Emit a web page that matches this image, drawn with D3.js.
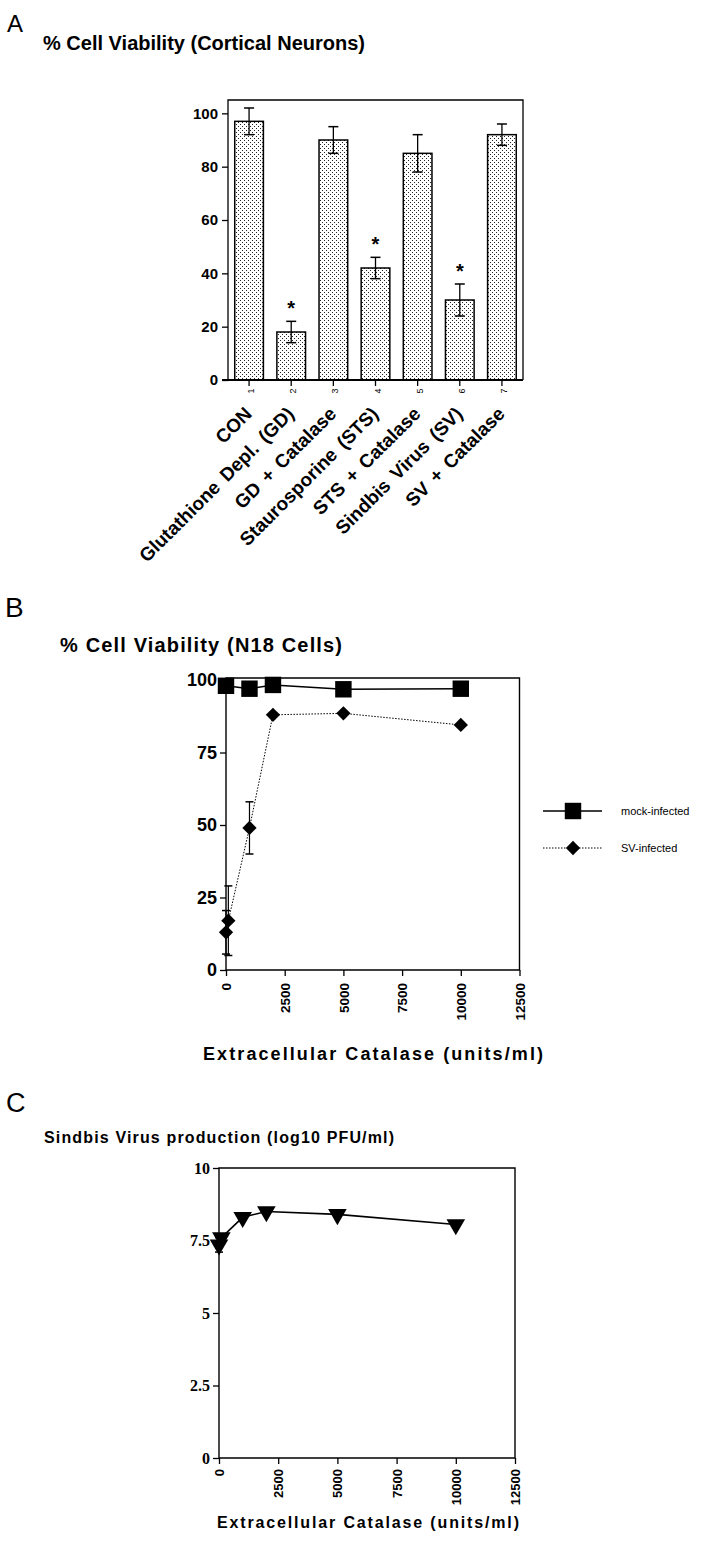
<!DOCTYPE html>
<html><head><meta charset="utf-8">
<script src="https://cdn.jsdelivr.net/npm/d3@7"></script>
<style>body{margin:0;background:#fff}svg{display:block}</style>
</head><body>
<script>
// ---------- DATA ----------
const catsA = ["CON","Glutathione Depl. (GD)","GD + Catalase","Staurosporine (STS)","STS + Catalase","Sindbis Virus (SV)","SV + Catalase"];
const tickNumsA = ["1","2","3","4","5","6","7"];
const valsA = [97,18,90,42,85,30,92];
const errA = [5,4,5,4,7,6,4];
const starA = [false,true,false,true,false,true,false];
const yTicksA = [0,20,40,60,80,100];

const mockX = [0,1000,2000,5000,10000];
const mockY = [98,97,98.3,96.8,97];
const svX = [0,100,1000,2000,5000,10000];
const svY = [13,17,49,88,88.5,84.5];
const svErr = [7.5,12,9,0,0,0];
const xTicksBC = [0,2500,5000,7500,10000,12500];
const yTicksB = [0,25,50,75,100];
const legendB = ["mock-infected","SV-infected"];

const virusX = [0,100,1000,2000,5000,10000];
const virusY = [7.35,7.6,8.3,8.5,8.4,8.05];
const virusErr = [0.25,0,0,0,0,0];
const yTicksC = [0,2.5,5,7.5,10];

// ---------- SETUP ----------
const W=707,H=1541;
const sans="'Liberation Sans', Arial, Helvetica, sans-serif";
const serif="'Liberation Serif', 'Times New Roman', serif";
const svg=d3.select("body").append("svg").attr("width",W).attr("height",H);
const defs=svg.append("defs");
const pat=defs.append("pattern").attr("id","dots").attr("width",4).attr("height",4).attr("patternUnits","userSpaceOnUse");
pat.append("rect").attr("width",4).attr("height",4).attr("fill","#fff");
pat.append("rect").attr("x",0).attr("y",0).attr("width",1).attr("height",1).attr("fill","#222");
pat.append("rect").attr("x",2).attr("y",2).attr("width",1).attr("height",1).attr("fill","#222");

function styleAxis(g,size,fam){
  g.selectAll("path.domain").remove();
  g.selectAll("line").attr("stroke","#000").attr("stroke-width",1.3);
  g.selectAll("text").attr("font-family",fam||sans).attr("font-weight","bold").attr("font-size",size).attr("fill","#000");
}

// ---------- PANEL A ----------
svg.append("text").attr("x",7).attr("y",32).attr("font-family",sans).attr("font-size",24).text("A");
svg.append("text").attr("x",43).attr("y",50).attr("font-family",sans).attr("font-weight","bold").attr("font-size",20)
  .attr("textLength",322).attr("lengthAdjust","spacing").text("% Cell Viability (Cortical Neurons)");

const xA=d3.scaleBand().domain(catsA).range([228,523]).paddingInner(0.32).paddingOuter(0.16);
const yA=d3.scaleLinear().domain([0,105]).range([380,100]);
const gA=svg.append("g");
gA.selectAll("rect.bar").data(catsA).join("rect").attr("class","bar")
  .attr("x",d=>xA(d)).attr("width",xA.bandwidth())
  .attr("y",(d,i)=>yA(valsA[i])).attr("height",(d,i)=>yA(0)-yA(valsA[i]))
  .attr("fill","url(#dots)").attr("stroke","#000").attr("stroke-width",1.5);
catsA.forEach((c,i)=>{
  const cx=xA(c)+xA.bandwidth()/2, cw=5;
  const top=yA(valsA[i]+errA[i]), bot=yA(valsA[i]-errA[i]);
  gA.append("line").attr("x1",cx).attr("x2",cx).attr("y1",top).attr("y2",bot).attr("stroke","#000").attr("stroke-width",1.3);
  gA.append("line").attr("x1",cx-cw).attr("x2",cx+cw).attr("y1",top).attr("y2",top).attr("stroke","#000").attr("stroke-width",1.5);
  gA.append("line").attr("x1",cx-cw).attr("x2",cx+cw).attr("y1",bot).attr("y2",bot).attr("stroke","#000").attr("stroke-width",1.5);
  if(starA[i]) gA.append("text").attr("x",cx).attr("y",yA(valsA[i]+errA[i])-6).attr("text-anchor","middle")
     .attr("font-family",sans).attr("font-weight","bold").attr("font-size",20).text("*");
});
gA.append("path").attr("d",`M${xA.range()[0]},${yA(0)}V${yA(105)}H${xA.range()[1]}V${yA(0)}`).attr("fill","none").attr("stroke","#000").attr("stroke-width",1.3);
gA.append("line").attr("x1",222).attr("x2",xA.range()[1]).attr("y1",yA(0)).attr("y2",yA(0)).attr("stroke","#000").attr("stroke-width",2);
const axA=gA.append("g").attr("transform",`translate(${xA.range()[0]},0)`).call(d3.axisLeft(yA).tickValues(yTicksA).tickSize(6).tickPadding(4));
styleAxis(axA,15);
const axAx=gA.append("g").attr("transform",`translate(0,${yA(0)})`).call(d3.axisBottom(xA).tickSize(6).tickFormat(""));
styleAxis(axAx,8);
catsA.forEach((c,i)=>{
  const cx=xA(c)+xA.bandwidth()/2;
  gA.append("text").attr("transform",`translate(${cx+5},${yA(0)+11}) rotate(-90)`).attr("text-anchor","middle")
    .attr("font-family",sans).attr("font-size",9).text(tickNumsA[i]);
  gA.append("text").attr("transform",`translate(${cx+4},${yA(0)+35}) rotate(-45)`).attr("text-anchor","end")
    .attr("font-family",sans).attr("font-weight","bold").attr("font-size",19).attr("word-spacing",3).text(c);
});

// ---------- PANEL B ----------
svg.append("text").attr("x",5).attr("y",617).attr("font-family",sans).attr("font-size",28).text("B");
svg.append("text").attr("x",60).attr("y",652).attr("font-family",sans).attr("font-weight","bold").attr("font-size",20)
  .attr("textLength",282).attr("lengthAdjust","spacing").text("% Cell Viability (N18 Cells)");
const xB=d3.scaleLinear().domain([0,12500]).range([226,519.5]);
const yB=d3.scaleLinear().domain([0,100]).range([970,680]);
const gB=svg.append("g");
gB.append("path").attr("d",`M${xB(0)},${yB(0)}V${yB(100.7)}H${xB(12500)}V${yB(0)}Z`).attr("fill","none").attr("stroke","#000").attr("stroke-width",1.4);
const axBy=gB.append("g").attr("transform",`translate(${xB(0)},0)`).call(d3.axisLeft(yB).tickValues(yTicksB).tickSize(6).tickPadding(3));
styleAxis(axBy,18);
const axBx=gB.append("g").attr("transform",`translate(0,${yB(0)})`).call(d3.axisBottom(xB).tickValues(xTicksBC).tickSize(6).tickFormat(d3.format("d")));
styleAxis(axBx,13.5);
axBx.selectAll("text").attr("transform","rotate(-90)").attr("text-anchor","end").attr("x",-13).attr("y",0).attr("dy","0.35em");
const lineB=d3.line().x(d=>xB(d[0])).y(d=>yB(d[1]));
gB.append("path").datum(svX.map((x,i)=>[x,svY[i]])).attr("d",lineB).attr("fill","none").attr("stroke","#000").attr("stroke-width",1).attr("stroke-dasharray","1.5,1.5");
gB.append("path").datum(mockX.map((x,i)=>[x,mockY[i]])).attr("d",lineB).attr("fill","none").attr("stroke","#000").attr("stroke-width",1.6);
svX.forEach((x,i)=>{
  if(svErr[i]>0){
    const cx=xB(x), t=yB(svY[i]+svErr[i]), b=yB(svY[i]-svErr[i]);
    gB.append("line").attr("x1",cx).attr("x2",cx).attr("y1",t).attr("y2",b).attr("stroke","#000").attr("stroke-width",1.2);
    [t,b].forEach(y=>gB.append("line").attr("x1",cx-4).attr("x2",cx+4).attr("y1",y).attr("y2",y).attr("stroke","#000").attr("stroke-width",1.5));
  }
});
const diamond=d3.symbol().type(d3.symbolDiamond2).size(130);
const square=d3.symbol().type(d3.symbolSquare).size(270);
gB.selectAll("path.dia").data(svX).join("path").attr("class","dia").attr("d",diamond)
  .attr("transform",(d,i)=>`translate(${xB(d)},${yB(svY[i])})`).attr("fill","#000");
gB.selectAll("path.sq").data(mockX).join("path").attr("class","sq").attr("d",square)
  .attr("transform",(d,i)=>`translate(${xB(d)},${yB(mockY[i])})`).attr("fill","#000");
svg.append("text").attr("x",203).attr("y",1060).attr("font-family",sans).attr("font-weight","bold").attr("font-size",18)
  .attr("textLength",340).attr("lengthAdjust","spacing").text("Extracellular Catalase (units/ml)");
const lg=svg.append("g");
lg.append("line").attr("x1",543).attr("x2",602).attr("y1",811).attr("y2",811).attr("stroke","#000").attr("stroke-width",1.6);
lg.append("path").attr("d",square).attr("transform","translate(573,811)");
lg.append("text").attr("x",621).attr("y",815).attr("font-family",sans).attr("font-size",11).text(legendB[0]);
lg.append("line").attr("x1",543).attr("x2",602).attr("y1",848).attr("y2",848).attr("stroke","#000").attr("stroke-width",1).attr("stroke-dasharray","1.5,1.5");
lg.append("path").attr("d",diamond).attr("transform","translate(573,848)");
lg.append("text").attr("x",621).attr("y",852).attr("font-family",sans).attr("font-size",11).text(legendB[1]);

// ---------- PANEL C ----------
svg.append("text").attr("x",6).attr("y",1112).attr("font-family",sans).attr("font-size",27).text("C");
svg.append("text").attr("x",44).attr("y",1143).attr("font-family",sans).attr("font-weight","bold").attr("font-size",16)
  .attr("textLength",350).attr("lengthAdjust","spacing").text("Sindbis Virus production (log10 PFU/ml)");
const xC=d3.scaleLinear().domain([0,12500]).range([219,515]);
const yC=d3.scaleLinear().domain([0,10]).range([1458,1168]);
const gC=svg.append("g");
gC.append("path").attr("d",`M${xC(0)},${yC(0)}V${yC(10)}H${xC(12500)}V${yC(0)}Z`).attr("fill","none").attr("stroke","#000").attr("stroke-width",1.4);
const axCy=gC.append("g").attr("transform",`translate(${xC(0)},0)`).call(d3.axisLeft(yC).tickValues(yTicksC).tickSize(6).tickPadding(3).tickFormat(d=>String(d)));
styleAxis(axCy,16,serif);
const axCx=gC.append("g").attr("transform",`translate(0,${yC(0)})`).call(d3.axisBottom(xC).tickValues(xTicksBC).tickSize(6).tickFormat(d3.format("d")));
styleAxis(axCx,13);
axCx.selectAll("text").attr("transform","rotate(-90)").attr("text-anchor","end").attr("x",-11).attr("y",0).attr("dy","0.35em");
const lineC=d3.line().x(d=>xC(d[0])).y(d=>yC(d[1]));
gC.append("path").datum(virusX.map((x,i)=>[x,virusY[i]])).attr("d",lineC).attr("fill","none").attr("stroke","#000").attr("stroke-width",1.6);
virusX.forEach((x,i)=>{
  if(virusErr[i]>0){
    const cx=xC(x), t=yC(virusY[i]+virusErr[i]), b=yC(virusY[i]-virusErr[i]);
    gC.append("line").attr("x1",cx).attr("x2",cx).attr("y1",t).attr("y2",b).attr("stroke","#000").attr("stroke-width",1.2);
    [t,b].forEach(y=>gC.append("line").attr("x1",cx-4).attr("x2",cx+4).attr("y1",y).attr("y2",y).attr("stroke","#000").attr("stroke-width",1.5));
  }
});
const tri=d3.symbol().type(d3.symbolTriangle).size(150);
gC.selectAll("path.tri").data(virusX).join("path").attr("class","tri").attr("d",tri)
  .attr("transform",(d,i)=>`translate(${xC(d)},${yC(virusY[i])}) rotate(180)`).attr("fill","#000");
svg.append("text").attr("x",217).attr("y",1528).attr("font-family",sans).attr("font-weight","bold").attr("font-size",16)
  .attr("textLength",302).attr("lengthAdjust","spacing").text("Extracellular Catalase (units/ml)");
</script>
</body></html>
